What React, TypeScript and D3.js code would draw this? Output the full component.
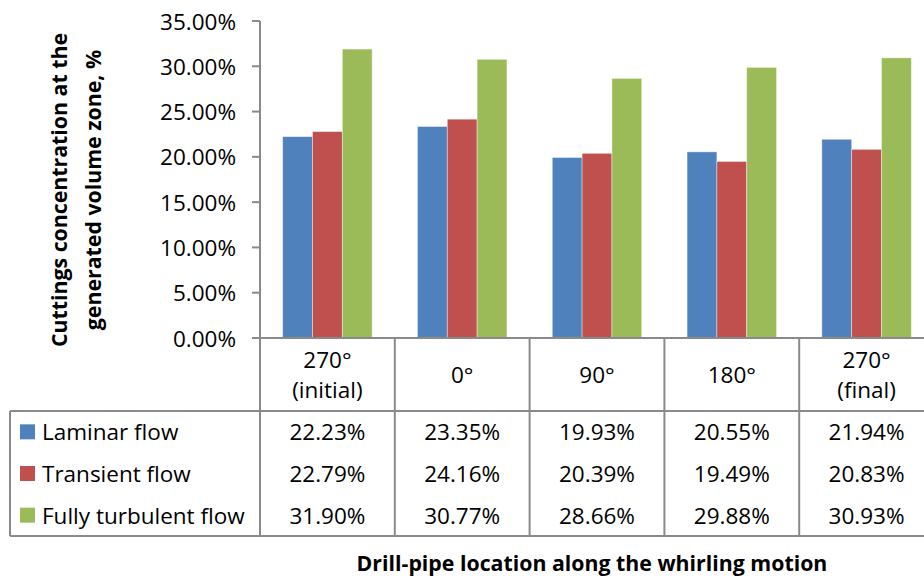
import React from "react";
import * as d3 from "d3";

const categories = ["270° (initial)", "0°", "90°", "180°", "270° (final)"];
const categoryLines = [["270°", "(initial)"], ["0°"], ["90°"], ["180°"], ["270°", "(final)"]];
const seriesNames = ["Laminar flow", "Transient flow", "Fully turbulent flow"];
const laminar = [22.23, 23.35, 19.93, 20.55, 21.94];
const transient = [22.79, 24.16, 20.39, 19.49, 20.83];
const turbulent = [31.9, 30.77, 28.66, 29.88, 30.93];
const seriesValues = [laminar, transient, turbulent];
const colors = ["#4F81BD", "#C0504D", "#9BBB59"];
const yTicks = [0, 5, 10, 15, 20, 25, 30, 35];

const W = 924;
const H = 578;
const FONT = "'Open Sans', 'Noto Sans', sans-serif";
const FS = 22.5;
const FSB = 21.3;

export default function App() {
  const x0 = d3.scaleBand().domain(categories).range([260, 934]).padding(0);
  const x1 = d3
    .scaleBand()
    .domain(seriesNames)
    .range([0, x0.bandwidth()])
    .paddingInner(0)
    .paddingOuter(0.76);
  const y = d3.scaleLinear().domain([0, 35]).range([338, 21]);
  const rowTop = 411;
  const rowBottom = 536;
  const rowH = (rowBottom - rowTop) / 3;
  const grid = "#8a8a8a";
  const fmt = (v: number) => v.toFixed(2) + "%";

  return (
    <svg
      width={W}
      height={H}
      style={{ position: "absolute", left: 0, top: 0, background: "#fff" }}
      fontFamily={FONT}
    >
      <rect x={0} y={0} width={W} height={H} fill="#fff" />
      {categories.map((c, i) => (
        <g key={c} transform={`translate(${x0(c)},0)`}>
          {seriesNames.map((s, j) => (
            <rect
              key={s}
              x={x1(s)}
              y={y(seriesValues[j][i])}
              width={x1.bandwidth()}
              height={y(0) - y(seriesValues[j][i])}
              fill={colors[j]}
              stroke="#ffffff"
              strokeOpacity={0.5}
              strokeWidth={0.8}
            />
          ))}
        </g>
      ))}
      <line x1={260} x2={260} y1={y(35)} y2={rowTop} stroke={grid} strokeWidth={2} />
      {yTicks.map((t) => (
        <g key={t}>
          <line x1={252} x2={260} y1={y(t)} y2={y(t)} stroke={grid} strokeWidth={2} />
          <text
            x={236}
            y={y(t)}
            textAnchor="end"
            dominantBaseline="central"
            fontSize={FS}
            fill="#000"
          >
            {t.toFixed(2) + "%"}
          </text>
        </g>
      ))}
      <line x1={252} x2={W} y1={y(0)} y2={y(0)} stroke={grid} strokeWidth={2} />
      {categories.map((c, i) => {
        const cx = (x0(c) as number) + x0.bandwidth() / 2;
        const lines = categoryLines[i];
        const mid = (y(0) + rowTop) / 2;
        return (
          <g key={c}>
            <line
              x1={x0(c)}
              x2={x0(c)}
              y1={y(0)}
              y2={rowBottom}
              stroke={grid}
              strokeWidth={2}
            />
            {lines.map((l, k) => (
              <text
                key={k}
                x={cx}
                y={mid + (k - (lines.length - 1) / 2) * 30}
                textAnchor="middle"
                dominantBaseline="central"
                fontSize={FS}
              >
                {l}
              </text>
            ))}
            {seriesNames.map((s, j) => (
              <text
                key={s}
                x={cx}
                y={rowTop + rowH * (j + 0.5)}
                textAnchor="middle"
                dominantBaseline="central"
                fontSize={FS}
              >
                {fmt(seriesValues[j][i])}
              </text>
            ))}
          </g>
        );
      })}
      <line x1={10} x2={W} y1={rowTop} y2={rowTop} stroke={grid} strokeWidth={2} />
      <line x1={10} x2={W} y1={rowBottom} y2={rowBottom} stroke={grid} strokeWidth={2} />
      <line x1={10} x2={10} y1={rowTop} y2={rowBottom} stroke={grid} strokeWidth={2} />
      {seriesNames.map((s, j) => {
        const cy = rowTop + rowH * (j + 0.5);
        return (
          <g key={s}>
            <rect x={20} y={cy - 7.5} width={15} height={15} fill={colors[j]} />
            <text x={42} y={cy} dominantBaseline="central" fontSize={FS}>
              {s}
            </text>
          </g>
        );
      })}
      <g transform="translate(75,190) rotate(-90)">
        <text
          textAnchor="middle"
          y={-17}
          dominantBaseline="central"
          fontSize={FSB}
          fontWeight="bold"
        >
          Cuttings concentration at the
        </text>
        <text
          textAnchor="middle"
          y={17}
          dominantBaseline="central"
          fontSize={FSB}
          fontWeight="bold"
        >
          generated volume zone, %
        </text>
      </g>
      <text
        x={592}
        y={562}
        textAnchor="middle"
        dominantBaseline="central"
        fontSize={FSB}
        fontWeight="bold"
      >
        Drill-pipe location along the whirling motion
      </text>
    </svg>
  );
}
